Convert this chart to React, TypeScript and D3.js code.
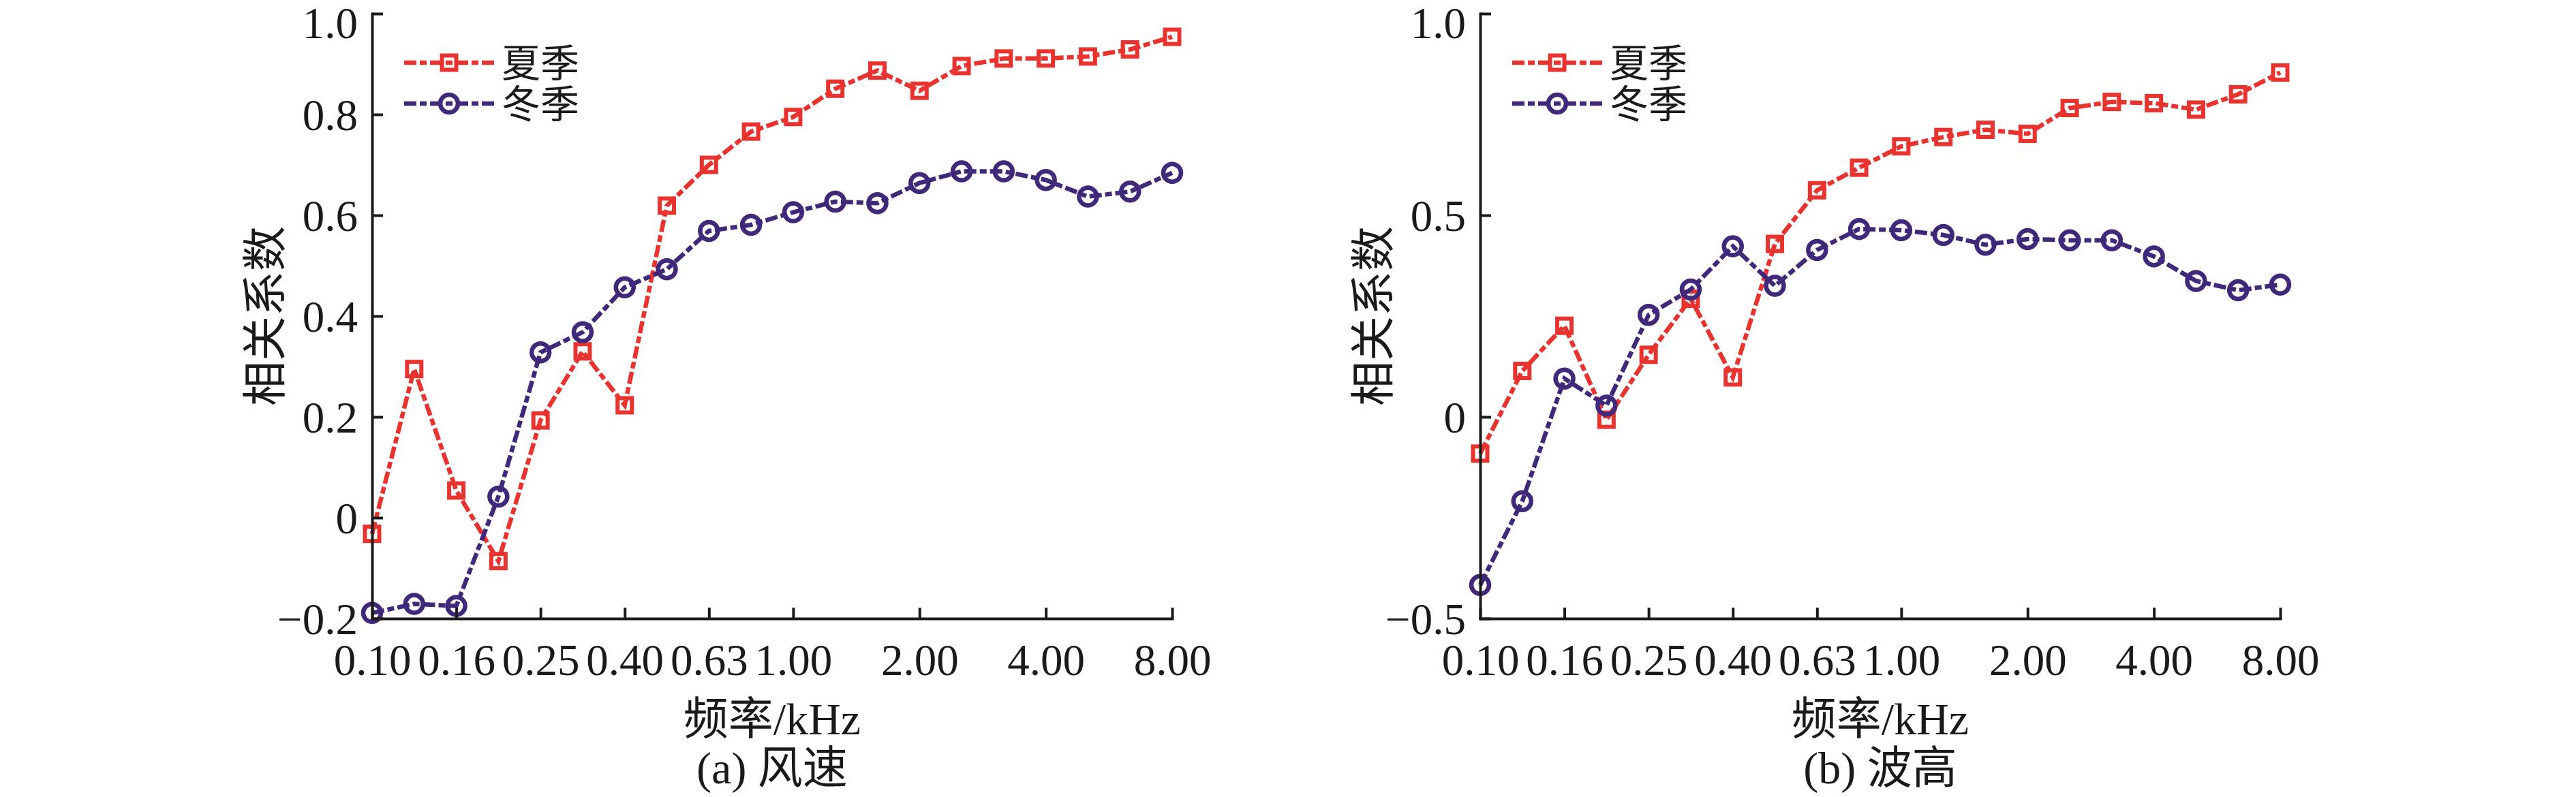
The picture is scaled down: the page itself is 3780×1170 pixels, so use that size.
import * as d3 from 'd3'
import { useRef, useEffect } from 'react'

// 1/3-octave band centre frequencies, kHz
const freqs = ['0.10', '0.125', '0.16', '0.20', '0.25', '0.315', '0.40', '0.50', '0.63', '0.80',
  '1.00', '1.25', '1.60', '2.00', '2.50', '3.15', '4.00', '5.00', '6.30', '8.00']
const xTickLabels = ['0.10', '0.16', '0.25', '0.40', '0.63', '1.00', '2.00', '4.00', '8.00']
const seasons = ['夏季', '冬季']

// (a) wind speed
const windSummer = [-0.032, 0.295, 0.054, -0.086, 0.193, 0.33, 0.223, 0.619, 0.70, 0.766,
  0.795, 0.851, 0.887, 0.847, 0.896, 0.911, 0.911, 0.915, 0.929, 0.954]
const windWinter = [-0.189, -0.171, -0.175, 0.042, 0.328, 0.368, 0.457, 0.493, 0.569, 0.581,
  0.606, 0.627, 0.624, 0.664, 0.687, 0.687, 0.670, 0.637, 0.647, 0.684]

// (b) wave height
const waveSummer = [-0.091, 0.114, 0.226, -0.007, 0.154, 0.293, 0.098, 0.429, 0.562, 0.618,
  0.671, 0.694, 0.712, 0.702, 0.766, 0.781, 0.778, 0.762, 0.80, 0.854]
const waveWinter = [-0.417, -0.209, 0.095, 0.028, 0.253, 0.316, 0.423, 0.325, 0.414, 0.466,
  0.463, 0.451, 0.427, 0.441, 0.438, 0.438, 0.398, 0.337, 0.314, 0.328]

const windTicks = [-0.2, 0, 0.2, 0.4, 0.6, 0.8, 1.0]
const waveTicks = [-0.5, 0, 0.5, 1.0]

const red = '#e8332f'
const purple = '#40287a'
const ink = '#1a1a1a'
const font = "'Liberation Serif', 'Noto Sans CJK SC', serif"
const dash = '18 5 10 5'

const top = 20
const bottom = 908
const plotW = 1174

const Marker = ({ kind, x, y, color }) => kind === 'square'
  ? <rect x={x - 10.5} y={y - 10.5} width={21} height={21} fill='none' stroke={color} strokeWidth={6} />
  : <circle cx={x} cy={y} r={13} fill='none' stroke={color} strokeWidth={6.5} />

const Panel = ({ left, yTicks, summer, winter, caption }) => {
  const xScale = d3.scalePoint()
    .domain(freqs)
    .range([left, left + plotW])

  const yMax = yTicks[yTicks.length - 1]
  const yScale = d3.scaleLinear()
    .domain([yTicks[0], yMax])
    .range([bottom, top])

  const line = d3.line()
    .x((d, i) => xScale(freqs[i]))
    .y(d => yScale(d))

  const series = [
    { name: seasons[0], data: summer, color: red, kind: 'square' },
    { name: seasons[1], data: winter, color: purple, kind: 'circle' },
  ]

  const yAxis = useRef()
  const xAxis = useRef()

  useEffect(() => {
    const fmt = d => d === 0 ? '0' : d3.format('.1f')(d)
    const yg = d3.select(yAxis.current)
      .call(d3.axisLeft(yScale).tickValues(yTicks).tickFormat(fmt)
        .tickSizeInner(-16).tickSizeOuter(0).tickPadding(21))
    const xg = d3.select(xAxis.current)
      .call(d3.axisBottom(xScale).tickValues(xTickLabels)
        .tickSizeInner(-16).tickSizeOuter(0).tickPadding(37))

    for (const g of [yg, xg]) {
      g.attr('font-size', 65).attr('font-family', font)
      g.select('.domain').attr('stroke', ink).attr('stroke-width', 4).attr('stroke-linecap', 'square')
      g.selectAll('.tick line').attr('stroke', ink).attr('stroke-width', 4)
      g.selectAll('.tick text').attr('fill', ink)
    }
    // top label sits a little low so it stays inside the picture
    yg.selectAll('.tick text').attr('dy', d => d === yMax ? '0.55em' : '0.34em')
  })

  const mid = left + plotW / 2

  return (
    <g>
      {series.map(s => (
        <g key={s.name}>
          <path d={line(s.data)} fill='none' stroke={s.color} strokeWidth={6.5} strokeDasharray={dash} />
          {s.data.map((v, i) => (
            <Marker key={i} kind={s.kind} x={xScale(freqs[i])} y={yScale(v)} color={s.color} />
          ))}
        </g>
      ))}

      <g ref={yAxis} transform={`translate(${left}, 0)`} />
      <g ref={xAxis} transform={`translate(0, ${bottom})`} />

      {/* legend */}
      {series.map((s, i) => {
        const ly = 92 + i * 60
        return (
          <g key={'lg' + s.name}>
            <line x1={left + 47} x2={left + 182} y1={ly} y2={ly}
              stroke={s.color} strokeWidth={6.5} strokeDasharray={dash} />
            <Marker kind={s.kind} x={left + 113} y={ly} color={s.color} />
            <text x={left + 190} y={ly + 21} fontSize={57} fontFamily={font} fill={ink}>{s.name}</text>
          </g>
        )
      })}

      <text transform={`translate(${left - 134}, ${(top + bottom) / 2}) rotate(-90)`}
        textAnchor='middle' fontSize={66} fontFamily={font} fill={ink}>相关系数</text>
      <text x={mid} y={1078} textAnchor='middle' fontSize={66} fontFamily={font} fill={ink}>频率/kHz</text>
      <text x={mid} y={1150} textAnchor='middle' fontSize={66} fontFamily={font} fill={ink}>{caption}</text>
    </g>
  )
}

const App = () => {
  return (
    <svg width={3780} height={1170}
      style={{ position: 'absolute', left: 0, top: 0, background: '#fff' }}>
      <Panel left={546} yTicks={windTicks} summer={windSummer} winter={windWinter} caption='(a) 风速' />
      <Panel left={2172} yTicks={waveTicks} summer={waveSummer} winter={waveWinter} caption='(b) 波高' />
    </svg>
  )
}

export default App
